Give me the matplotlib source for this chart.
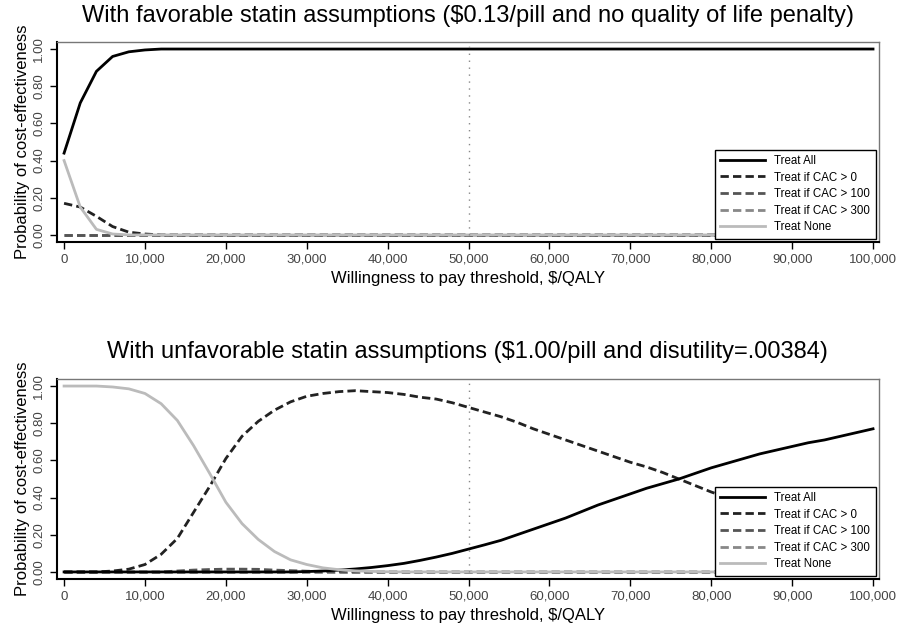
import numpy as np
import matplotlib.pyplot as plt
from matplotlib.ticker import FuncFormatter

# ----------------------------
# Data (probability of cost-effectiveness vs WTP threshold)
# ----------------------------
wtp = np.arange(0, 100001, 2000)

series_names = ["Treat All", "Treat if CAC > 0", "Treat if CAC > 100",
                "Treat if CAC > 300", "Treat None"]

# favorable assumptions
fav_all = [0.44, 0.71, 0.88, 0.96, 0.985, 0.995, 1.0, 1.0, 1.0, 1.0,
           1.0, 1.0, 1.0, 1.0, 1.0, 1.0, 1.0, 1.0, 1.0, 1.0,
           1.0, 1.0, 1.0, 1.0, 1.0, 1.0, 1.0, 1.0, 1.0, 1.0,
           1.0, 1.0, 1.0, 1.0, 1.0, 1.0, 1.0, 1.0, 1.0, 1.0,
           1.0, 1.0, 1.0, 1.0, 1.0, 1.0, 1.0, 1.0, 1.0, 1.0, 1.0]
fav_cac0 = [0.17, 0.15, 0.10, 0.045, 0.015, 0.005, 0.0, 0.0, 0.0, 0.0,
            0.0, 0.0, 0.0, 0.0, 0.0, 0.0, 0.0, 0.0, 0.0, 0.0,
            0.0, 0.0, 0.0, 0.0, 0.0, 0.0, 0.0, 0.0, 0.0, 0.0,
            0.0, 0.0, 0.0, 0.0, 0.0, 0.0, 0.0, 0.0, 0.0, 0.0,
            0.0, 0.0, 0.0, 0.0, 0.0, 0.0, 0.0, 0.0, 0.0, 0.0, 0.0]
fav_cac100 = [0.0] * 51
fav_cac300 = [0.0] * 51
fav_none = [0.40, 0.15, 0.03, 0.005, 0.0, 0.0, 0.0, 0.0, 0.0, 0.0,
            0.0, 0.0, 0.0, 0.0, 0.0, 0.0, 0.0, 0.0, 0.0, 0.0,
            0.0, 0.0, 0.0, 0.0, 0.0, 0.0, 0.0, 0.0, 0.0, 0.0,
            0.0, 0.0, 0.0, 0.0, 0.0, 0.0, 0.0, 0.0, 0.0, 0.0,
            0.0, 0.0, 0.0, 0.0, 0.0, 0.0, 0.0, 0.0, 0.0, 0.0, 0.0]

# unfavorable assumptions
unf_all = [0.0, 0.0, 0.0, 0.0, 0.0, 0.0, 0.0, 0.0, 0.0, 0.0,
           0.0, 0.0, 0.0, 0.0, 0.0, 0.002, 0.005, 0.01, 0.016, 0.024,
           0.034, 0.046, 0.062, 0.08, 0.10, 0.123, 0.146, 0.17, 0.20, 0.23,
           0.26, 0.29, 0.325, 0.36, 0.39, 0.42, 0.45, 0.475, 0.50, 0.53,
           0.56, 0.585, 0.61, 0.635, 0.655, 0.675, 0.695, 0.71, 0.73, 0.75, 0.77]
unf_cac0 = [0.0, 0.0, 0.0, 0.005, 0.015, 0.04, 0.095, 0.18, 0.32, 0.46,
            0.61, 0.73, 0.81, 0.87, 0.915, 0.945, 0.96, 0.97, 0.975, 0.97,
            0.965, 0.955, 0.94, 0.93, 0.91, 0.885, 0.86, 0.835, 0.805, 0.77,
            0.74, 0.71, 0.68, 0.65, 0.62, 0.59, 0.565, 0.535, 0.50, 0.465,
            0.43, 0.40, 0.375, 0.35, 0.33, 0.31, 0.295, 0.275, 0.26, 0.245, 0.225]
unf_cac100 = [0.0, 0.0, 0.0, 0.0, 0.0, 0.0, 0.0, 0.005, 0.01, 0.013,
              0.015, 0.015, 0.014, 0.01, 0.007, 0.004, 0.002, 0.001, 0.0, 0.0,
              0.0, 0.0, 0.0, 0.0, 0.0, 0.0, 0.0, 0.0, 0.0, 0.0,
              0.0, 0.0, 0.0, 0.0, 0.0, 0.0, 0.0, 0.0, 0.0, 0.0,
              0.0, 0.0, 0.0, 0.0, 0.0, 0.0, 0.0, 0.0, 0.0, 0.0, 0.0]
unf_cac300 = [0.0] * 51
unf_none = [1.0, 1.0, 1.0, 0.995, 0.985, 0.96, 0.905, 0.815, 0.68, 0.53,
            0.375, 0.26, 0.175, 0.11, 0.065, 0.04, 0.022, 0.012, 0.006, 0.003,
            0.001, 0.0, 0.0, 0.0, 0.0, 0.0, 0.0, 0.0, 0.0, 0.0,
            0.0, 0.0, 0.0, 0.0, 0.0, 0.0, 0.0, 0.0, 0.0, 0.0,
            0.0, 0.0, 0.0, 0.0, 0.0, 0.0, 0.0, 0.0, 0.0, 0.0, 0.0]

titles = ["With favorable statin assumptions (\\$0.13/pill and no quality of life penalty)",
          "With unfavorable statin assumptions (\\$1.00/pill and disutility=.00384)"]

# ----------------------------
# Styles
# ----------------------------
colors = ["black", "#222222", "#555555", "#888888", "#bbbbbb"]
styles = ["-", (0, (3, 1.5)), (0, (3, 1.5)), (0, (3, 1.5)), "-"]
draw_order = [3, 2, 1, 0, 4]

plt.rcParams['font.family'] = ['Liberation Sans', 'DejaVu Sans']

fig = plt.figure(figsize=(9.01, 6.31), dpi=100)

panels = [
    (0.6165, [fav_all, fav_cac0, fav_cac100, fav_cac300, fav_none]),
    (0.0824, [unf_all, unf_cac0, unf_cac100, unf_cac300, unf_none]),
]

title_y = [0.974, 0.4422]

for p, (bottom, data) in enumerate(panels):
    ax = fig.add_axes([0.0633, bottom, 0.9123, 0.3170])
    handles = [None] * 5
    for i in draw_order:
        h, = ax.plot(wtp, data[i], color=colors[i], linestyle=styles[i],
                     linewidth=2, label=series_names[i])
        handles[i] = h

    ax.axvline(50000, color="#888888", linestyle=(0, (1, 4)), linewidth=1)

    ax.set_xlim(-870, 100740)
    ax.set_ylim(-0.038, 1.038)
    ax.set_xticks(np.arange(0, 100001, 10000))
    ax.set_yticks([0, 0.2, 0.4, 0.6, 0.8, 1.0])
    ax.xaxis.set_major_formatter(FuncFormatter(lambda v, pos: f"{int(v):,}"))
    ax.yaxis.set_major_formatter(FuncFormatter(lambda v, pos: f"{v:.2f}"))
    ax.tick_params(axis='both', direction='out', length=5, width=1,
                   labelsize=9.5, labelcolor="#444444", color="black")
    for lab in ax.get_yticklabels():
        lab.set_rotation(90)
        lab.set_va('center')

    for side in ['top', 'right']:
        ax.spines[side].set_color("#777777")
        ax.spines[side].set_linewidth(1)
    for side in ['left', 'bottom']:
        ax.spines[side].set_color("black")
        ax.spines[side].set_linewidth(1.5)

    ax.set_xlabel("Willingness to pay threshold, \\$/QALY", fontsize=12, labelpad=4)
    ax.set_ylabel("Probability of cost-effectiveness", fontsize=12, labelpad=2)

    leg = ax.legend(handles=handles, loc='lower right', fontsize=8.3,
                    handlelength=3.9, fancybox=False, framealpha=1,
                    edgecolor='black', borderaxespad=0.3, labelspacing=0.4,
                    borderpad=0.45)
    leg.get_frame().set_linewidth(1)

    fig.text(0.519, title_y[p], titles[p], fontsize=17, ha='center', va='center')

fig.savefig("out.png", dpi=100)
